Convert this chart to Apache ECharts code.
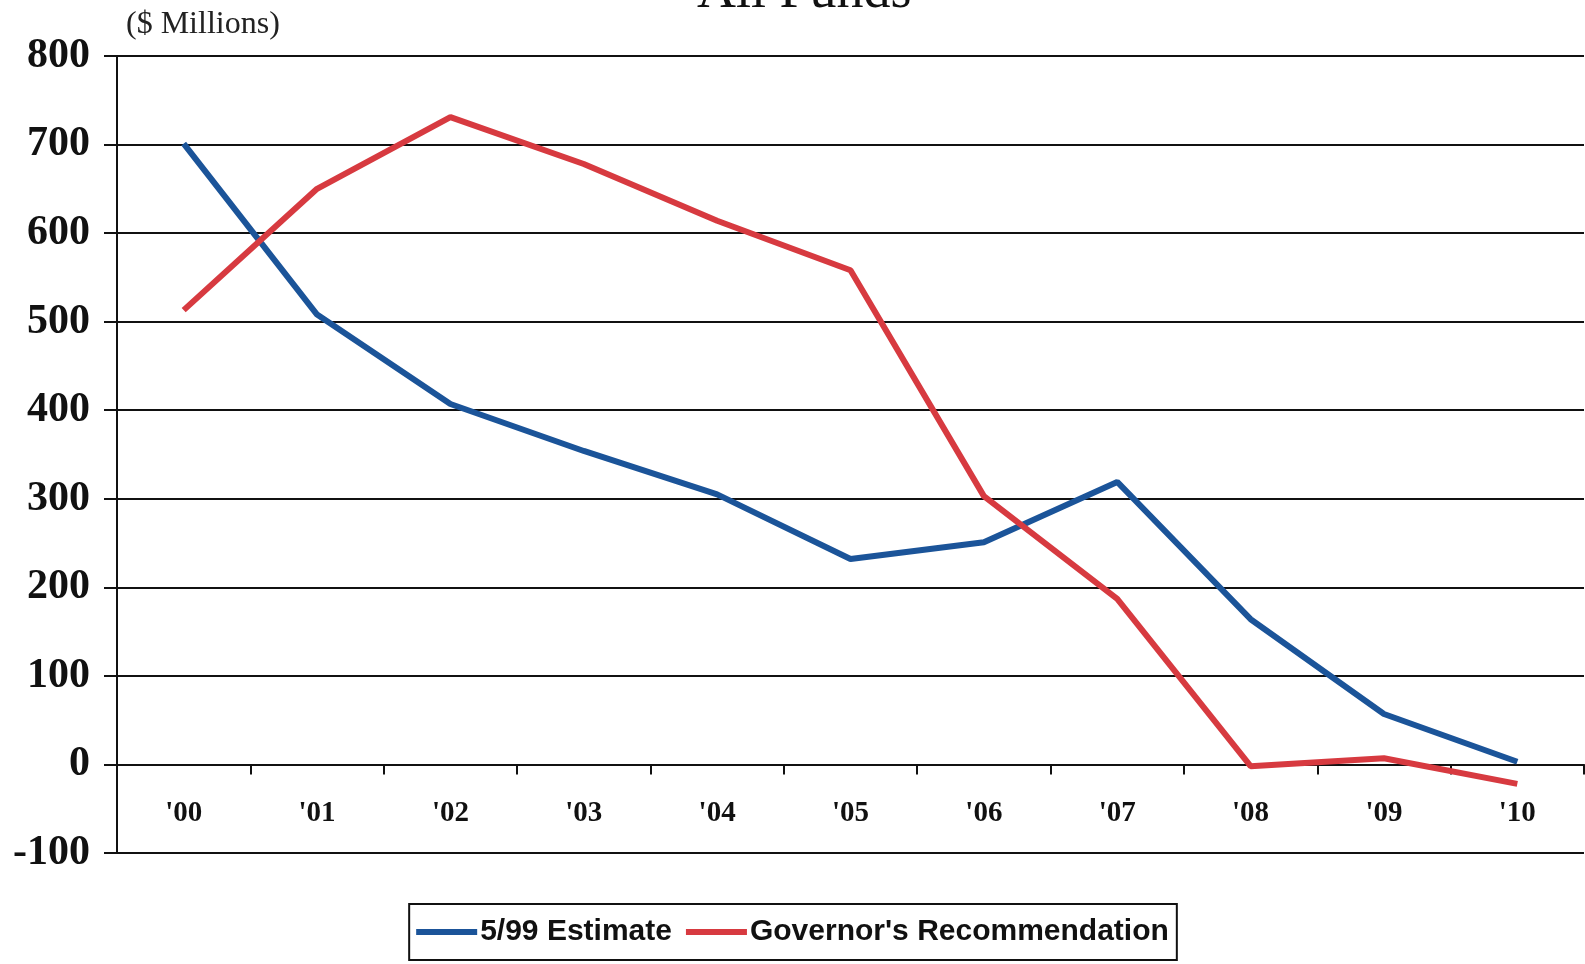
<!DOCTYPE html>
<html>
<head>
<meta charset="utf-8">
<title>All Funds</title>
<script src="https://cdn.jsdelivr.net/npm/echarts@6/dist/echarts.min.js"></script>
<style>
  html, body { margin: 0; padding: 0; background: #fff; }
  #chart { width: 1585px; height: 964px; }
</style>
</head>
<body>
<div id="chart"></div>
<script>
// fiscal years
const years = ["'00", "'01", "'02", "'03", "'04", "'05", "'06", "'07", "'08", "'09", "'10"]
// $ millions
const estimate = [701, 508, 407, 354, 305, 232, 251, 319, 164, 57, 3]
const governor = [513, 650, 731, 678, 614, 558, 303, 187, -2, 7, -22]
const seriesNames = ['5/99 Estimate', "Governor's Recommendation"]
const yMin = -100
const yMax = 800
const yStep = 100

const chart = echarts.init(document.getElementById('chart'))

const serif = '"Liberation Serif", "Times New Roman", serif'
const gridLine = { color: '#111', width: 2, type: 'solid' }

const options = {
  animation: false,
  backgroundColor: '#fff',
  graphic: [
    {
      // title is cut off by the top edge in the scan
      type: 'text',
      left: 697,
      top: -34,
      style: { text: 'All Funds', font: '54px ' + serif, fill: '#111' }
    },
    {
      type: 'text',
      left: 126,
      top: 9,
      style: { text: '($ Millions)', font: '32px ' + serif, fill: '#222' }
    }
  ],
  grid: {
    left: 117,
    right: 1,
    top: 56,
    bottom: 111,
    containLabel: false
  },
  legend: {
    data: seriesNames,
    left: 'center',
    top: 904,
    icon: 'rect',
    itemWidth: 61,
    itemHeight: 6,
    itemGap: 14,
    padding: [10, 8, 10, 7],
    borderColor: '#111',
    borderWidth: 2,
    textStyle: {
      color: '#111',
      fontSize: 30,
      lineHeight: 36,
      fontWeight: 'bold',
      fontFamily: '"Liberation Sans Narrow", "Arial Narrow", "Liberation Sans", sans-serif',
      padding: [0, 0, 0, -2]
    }
  },
  xAxis: {
    type: 'category',
    data: years,
    boundaryGap: true,
    axisLine: { onZero: true, lineStyle: gridLine },
    axisTick: { show: true, inside: false, length: 10, lineStyle: gridLine },
    axisLabel: {
      // labels sit just under the zero line, not under the grid
      margin: -54,
      color: '#111',
      fontSize: 29,
      fontWeight: 'bold',
      fontFamily: serif
    },
    splitLine: { show: false }
  },
  yAxis: {
    type: 'value',
    min: yMin,
    max: yMax,
    interval: yStep,
    axisLine: { show: true, lineStyle: gridLine },
    axisTick: { show: true, inside: false, length: 13, lineStyle: gridLine },
    axisLabel: {
      margin: 27,
      color: '#111',
      fontSize: 42,
      fontWeight: 'bold',
      fontFamily: serif
    },
    splitLine: { show: true, lineStyle: gridLine }
  },
  series: [
    {
      name: seriesNames[0],
      type: 'line',
      data: estimate,
      symbol: 'none',
      lineStyle: { color: '#1b5499', width: 6 },
      itemStyle: { color: '#1b5499' }
    },
    {
      name: seriesNames[1],
      type: 'line',
      data: governor,
      symbol: 'none',
      lineStyle: { color: '#d73a40', width: 6 },
      itemStyle: { color: '#d73a40' }
    }
  ]
}

chart.setOption(options, true)
</script>
</body>
</html>
